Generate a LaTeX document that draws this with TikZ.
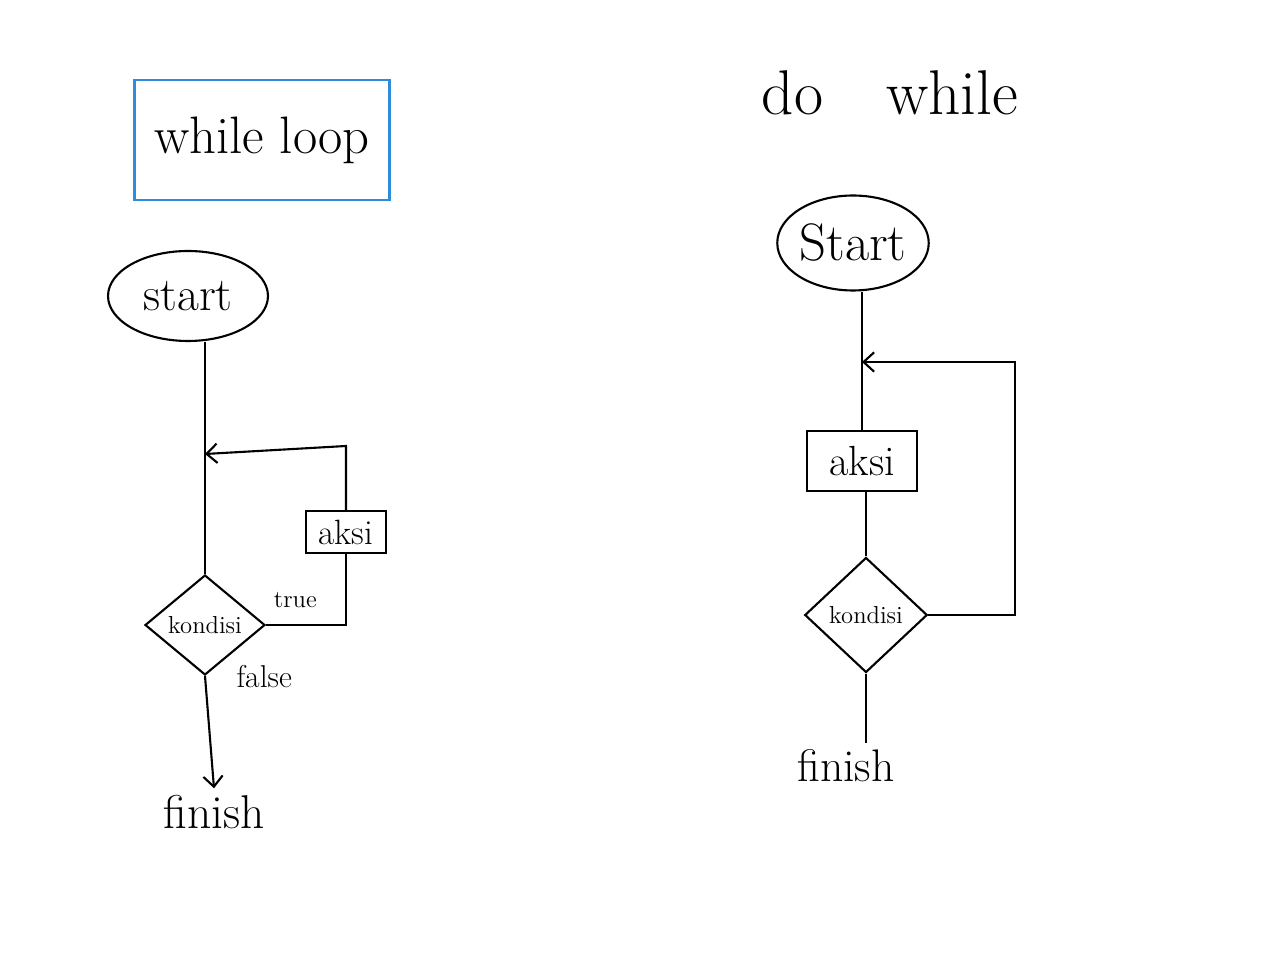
\documentclass[tikz,border=0pt]{standalone}
\usepackage{fontspec}
\usetikzlibrary{shapes.geometric,positioning,arrows.meta}
\definecolor{penblue}{RGB}{45,140,220}
\newcommand{\pensize}[1]{\fontsize{#1}{1.2\dimexpr #1pt\relax}\selectfont}
\begin{document}
\begin{tikzpicture}[x=0.02cm, y=-0.02cm, line width=1.2pt, >={Straight Barb[length=6pt, width=11pt]},
  term/.style={draw, ellipse, inner sep=0pt, minimum width=3.2cm, minimum height=1.8cm, font=\pensize{27}},
  act/.style={draw, rectangle, inner sep=0pt, font=\pensize{20}},
  cond/.style={draw, diamond, inner sep=0pt, font=\pensize{14}},
  note/.style={font=\pensize{14}}]
\useasboundingbox (0,0) rectangle (1278,962);

% while loop
\node [draw=penblue, line width=1.4pt, minimum width=5.1cm, minimum height=2.4cm, font=\pensize{30}] (titleL) at (262,140) {while loop};
\node [term] (startL) at (188,296) {start};
\node [cond, minimum width=2.4cm, minimum height=2cm] (kondL) at (205,625) {kondisi};
\node [act, minimum width=1.6cm, minimum height=0.84cm] (aksiL) at (346,532) {aksi};
\node [font=\pensize{27}] (finishL) at (214,812) {finish};
\coordinate (joinL) at (kondL.north |- 0,454);
\coordinate (turnL) at (aksiL.north |- 0,446);

\draw (startL.south -| kondL.north) -- (kondL.north);
\draw (kondL.east) -| node [note, pos=0.05, above right=6pt and -4pt] {true} (aksiL.south);
\draw [->] (aksiL.north) -- (turnL) -- (joinL);
\draw [->] (kondL.south) -- node [note, font=\pensize{18}, right=14pt, pos=0.0] {false} (finishL.north);

% do while
\node [font=\pensize{36}] (titleR) at (890,93) {do\quad while};
\node [term, minimum width=2.75cm, minimum height=1.9cm, font=\pensize{30}] (startR) at (853,243) {Start};
\node [act, minimum width=2.2cm, minimum height=1.2cm, font=\pensize{24}] (aksiR) at (862,461) {aksi};
\node [cond, minimum width=2.45cm, minimum height=2.3cm] (kondR) at (866,615) {kondisi};
\node [font=\pensize{26}] (finishR) at (846,766) {finish};
\coordinate (cornerR) at (1015,615);
\coordinate (joinR) at (aksiR.north |- 0,362);

\draw (startR.south -| aksiR.north) -- (aksiR.north);
\draw (aksiR.south -| kondR.north) -- (kondR.north);
\draw [->] (kondR.east) -- (cornerR) |- (joinR);
\draw (kondR.south) -- (finishR.north -| kondR.south);
\end{tikzpicture}
\end{document}
